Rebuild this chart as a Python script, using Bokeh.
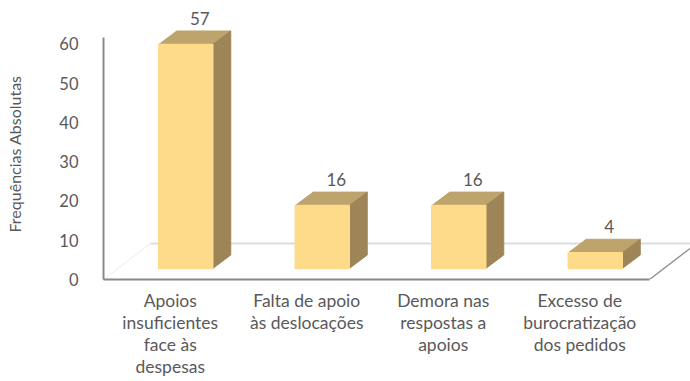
from bokeh.plotting import figure
from bokeh.embed import file_html
from bokeh.resources import INLINE
from bokeh.models import Range1d, FixedTicker, Label, Title

categories = ["Apoios\ninsuficientes\nface às\ndespesas", "Falta de apoio\nàs deslocações",
              "Demora nas\nrespostas a\napoios", "Excesso de\nburocratização\ndos pedidos"]
counts = [57, 16, 16, 4]
y_ticks = [0, 10, 20, 30, 40, 50, 60]
y_title = "Frequências Absolutas"

FONT = "Lato"
GREY = "#595959"
FRONT, TOP, SIDE = "#FEDB8B", "#BDA36C", "#9E8558"

PX_X = 136.5            # pixels per category
PX_Y = 3.93             # pixels per unit
W, H = 690, 381
LEFT, BOTTOM = 103, 102
RIGHT = 0
TOP_BORDER = 6

x_end = (W - LEFT - RIGHT) / PX_X
y_end = (H - BOTTOM - TOP_BORDER) / PX_Y

# 3-D geometry, in axis units
depth_floor_x, depth_floor_y = 47 / PX_X, 36 / PX_Y
bar_w = 54 / PX_X
bar_shift = 14 / PX_X
base = 11 / PX_Y
depth_x, depth_y = 18 / PX_X, 13.5 / PX_Y
label_shift = 1.5 / PX_X

p = figure(width=W, height=H, output_backend="svg", toolbar_location=None,
           x_range=Range1d(0, x_end), y_range=Range1d(0, y_end),
           min_border_left=LEFT, min_border_bottom=BOTTOM, min_border_right=RIGHT, min_border_top=TOP_BORDER)
p.outline_line_color = None
p.background_fill_color = None
p.grid.visible = False

# floor
p.line([depth_floor_x, x_end], [depth_floor_y] * 2, line_color="#DDDDDD", line_width=2.2)
p.line([0, depth_floor_x], [0, depth_floor_y], line_color="#E6E6E6", line_width=0.8)
p.line([len(counts), len(counts) + depth_floor_x], [0, depth_floor_y], line_color="#8A8A8A", line_width=1.3)

centers = [i + 0.5 + bar_shift for i in range(len(counts))]
lefts = [c - bar_w / 2 for c in centers]
rights = [c + bar_w / 2 for c in centers]
tops = [base + v for v in counts]
bases = [base] * len(counts)

top_x = [[l, r, r + depth_x, l + depth_x] for l, r in zip(lefts, rights)]
top_y = [[t, t, t + depth_y, t + depth_y] for t in tops]
side_x = [[r, r + depth_x, r + depth_x, r] for r in rights]
side_y = [[b, b + depth_y, t + depth_y, t] for b, t in zip(bases, tops)]

p.patches(top_x, top_y, fill_color=TOP, line_color=TOP, line_width=1, line_join="round")
p.patches(side_x, side_y, fill_color=SIDE, line_color=SIDE, line_width=1, line_join="round")
p.quad(left=lefts, right=rights, bottom=bases, top=tops, fill_color=FRONT, line_color=FRONT,
       line_width=1.5, line_join="round")

for c, t, v in zip(centers, tops, counts):
    p.add_layout(Label(x=c + 14 / PX_X, y=t + depth_y, text=str(v), text_font=FONT, text_font_size="17px",
                       text_color=GREY, text_align="center", text_baseline="bottom", y_offset=6))

tick_pos = [i + 0.5 - label_shift for i in range(len(counts))]
xa = p.xaxis[0]
xa.bounds = (0, len(counts))
xa.ticker = FixedTicker(ticks=tick_pos)
xa.major_label_overrides = dict(zip(tick_pos, categories))
xa.major_tick_line_color = None
xa.minor_tick_line_color = None
xa.axis_line_color = "#8A8A8A"
xa.axis_line_width = 2
xa.major_label_text_font = FONT
xa.major_label_text_font_size = "17.5px"
xa.major_label_text_color = GREY
xa.major_label_text_line_height = 1.06
xa.major_label_standoff = 4

ya = p.yaxis[0]
ya.bounds = (0, 61.6)
ya.ticker = FixedTicker(ticks=y_ticks)
ya.major_tick_line_color = None
ya.minor_tick_line_color = None
ya.axis_line_color = "#8A8A8A"
ya.axis_line_width = 2
ya.major_label_text_font = FONT
ya.major_label_text_font_size = "16.5px"
ya.major_label_text_color = GREY
ya.major_label_standoff = 19

p.add_layout(Title(text=" ", standoff=12, text_font=FONT, text_font_size="16px"), "left")
p.add_layout(Title(text=y_title, align="left", offset=47, standoff=0, text_font=FONT,
                   text_font_size="16px", text_font_style="normal", text_color=GREY), "left")

open("out.html", "w").write(file_html(p, INLINE))
